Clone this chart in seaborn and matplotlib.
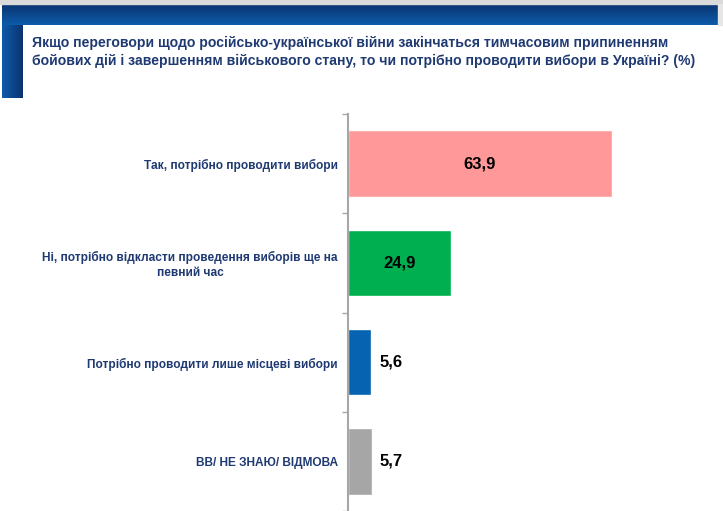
import matplotlib.pyplot as plt
import matplotlib.patches as patches
from matplotlib.colors import LinearSegmentedColormap
import numpy as np
import pandas as pd
import seaborn as sns

# Data
categories = [
    "Так, потрібно проводити вибори",
    "Ні, потрібно відкласти проведення виборів ще на\nпевний час",
    "Потрібно проводити лише місцеві вибори",
    "ВВ/ НЕ ЗНАЮ/ ВІДМОВА",
]
values = [63.9, 24.9, 5.6, 5.7]
value_labels = ["63,9", "24,9", "5,6", "5,7"]
colors = ["#FF9999", "#00B050", "#0563B1", "#A6A6A6"]
title = ("Якщо переговори щодо російсько-української війни закінчаться тимчасовим припиненням\n"
         "бойових дій і завершенням військового стану, то чи потрібно проводити вибори в Україні? (%)")

df = pd.DataFrame({"category": categories, "value": values})

sns.set_style("white")
plt.rcParams["font.family"] = ["Liberation Sans", "DejaVu Sans"]

W, H = 723, 511
fig = plt.figure(figsize=(W / 100, H / 100), dpi=100)

# Header decoration: gray strip, blue gradient band and left strip
fig.patches.append(patches.Rectangle((0, 1 - 4 / H), 1, 4 / H, transform=fig.transFigure,
                                     color="#DADADA", zorder=0))
fig.patches.append(patches.Rectangle((718 / W, 1 - 25 / H), 5 / W, 21 / H, transform=fig.transFigure,
                                     color="#E6E6E6", zorder=0))
blue = LinearSegmentedColormap.from_list("hdr", ["#0A3470", "#0E5BAA"])
band = fig.add_axes([2 / W, 1 - 25 / H, 716 / W, 21 / H])
band.imshow(np.linspace(0, 1, 50).reshape(-1, 1), aspect="auto", cmap=blue,
            extent=[0, 1, 0, 1], origin="upper")
band.axis("off")
strip = fig.add_axes([2 / W, 1 - 98 / H, 21 / W, 73 / H])
strip.imshow(np.linspace(1, 0, 30).reshape(1, -1), aspect="auto", cmap=blue, extent=[0, 1, 0, 1])
strip.axis("off")

fig.text(32 / W, 1 - 36 / H, title, ha="left", va="top", fontsize=10.1, fontweight="bold",
         color="#1F3A72", linespacing=1.3)

# Plot area
ax = fig.add_axes([348 / W, 0.0, 370 / W, 397 / H])
sns.barplot(data=df, y="category", x="value", hue="category", palette=colors,
            orient="h", width=0.67, legend=False, ax=ax, saturation=1)

ax.set_xlim(0, 89.7)
ax.set_ylim(len(categories) - 0.5, -0.5)
ax.set_xlabel("")
ax.set_ylabel("")
ax.set_xticks([])

for side in ["top", "right", "bottom"]:
    ax.spines[side].set_visible(False)
ax.spines["left"].set_color("#A6A6A6")
ax.spines["left"].set_linewidth(1.5)

# category boundaries as ticks, category text as plain labels
ax.set_yticks(np.arange(len(categories) + 1) - 0.5)
ax.set_yticklabels([])
ax.tick_params(axis="y", length=4, width=1, color="#A6A6A6", left=True)
for i, cat in enumerate(categories):
    ax.text(-0.028, i + 0.02, cat, transform=ax.get_yaxis_transform(), ha="right", va="center",
            multialignment="center", fontsize=8.6, fontweight="bold", color="#1F3A72",
            linespacing=1.25)

for i, (v, lab) in enumerate(zip(values, value_labels)):
    if v > 15:
        ax.text(v / 2, i, lab, ha="center", va="center", fontsize=12, fontweight="bold", color="black")
    else:
        ax.text(v + 2, i, lab, ha="left", va="center", fontsize=12, fontweight="bold", color="black")

fig.savefig("out.png", dpi=100)
